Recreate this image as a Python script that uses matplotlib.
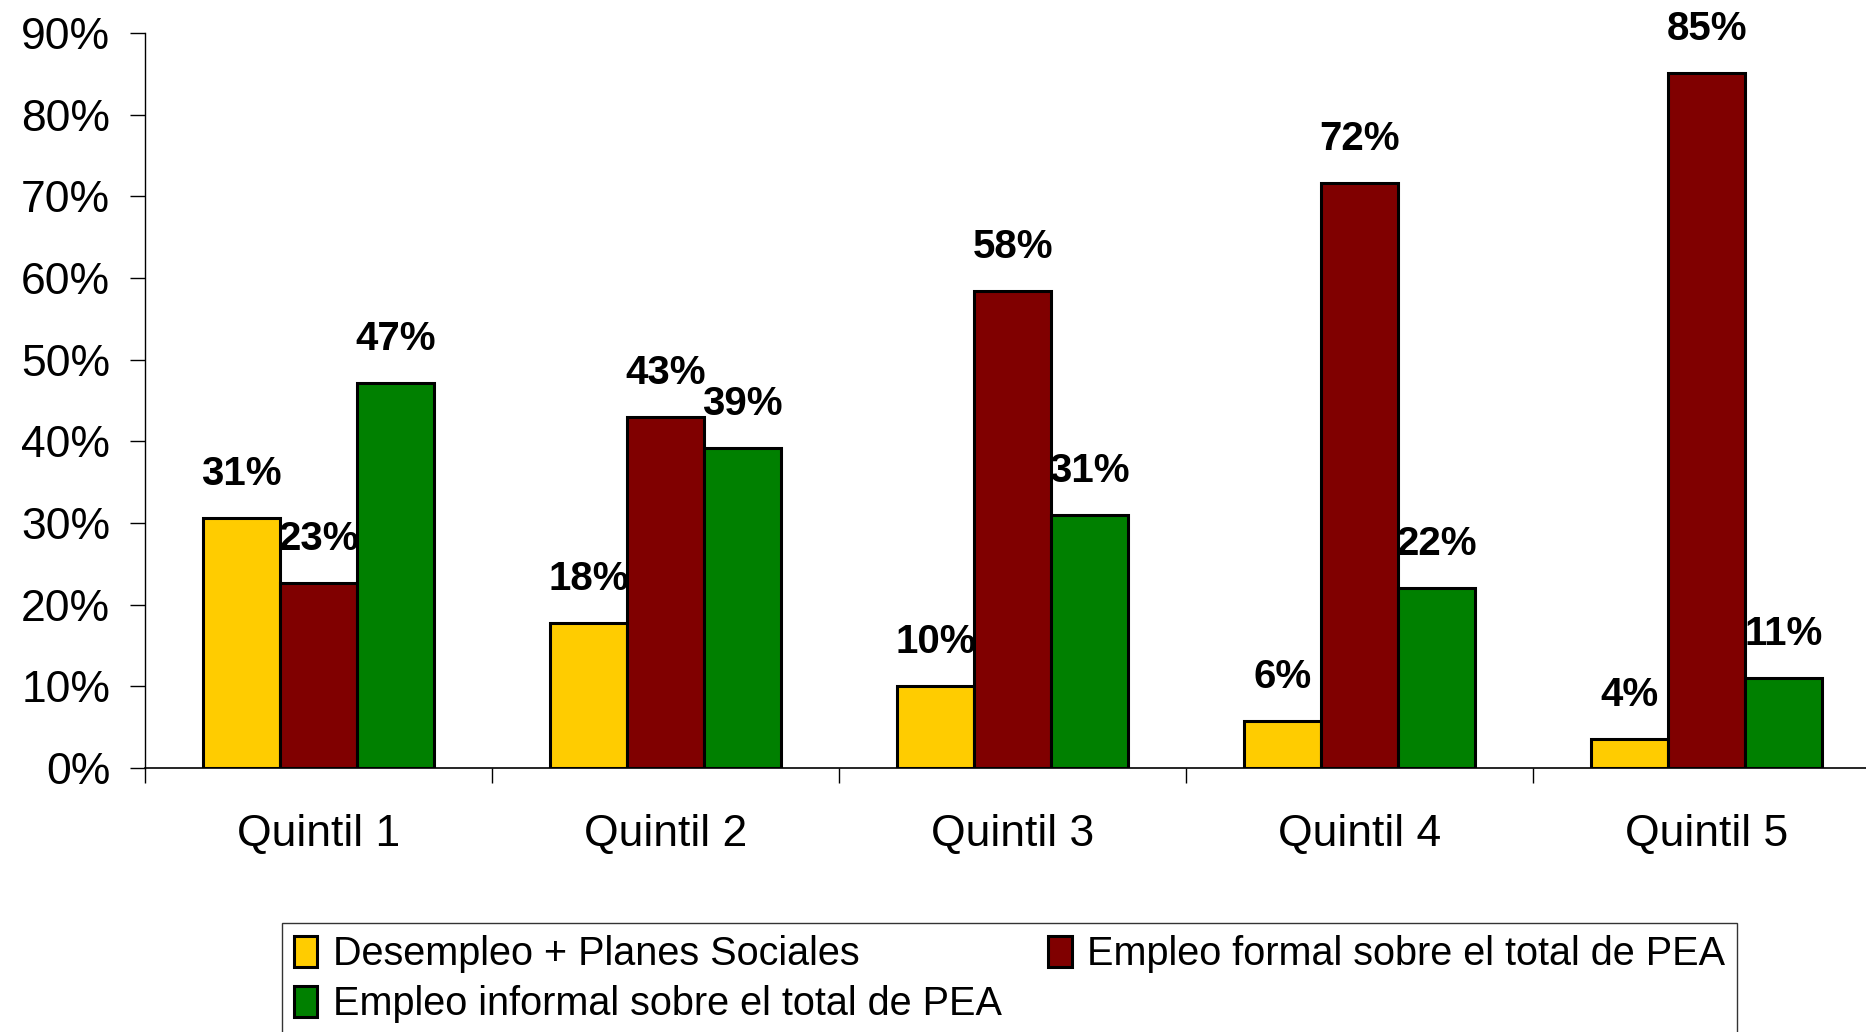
#!/usr/bin/env python3
import matplotlib.pyplot as plt
import numpy as np

# data
quintiles = ['Quintil 1', 'Quintil 2', 'Quintil 3', 'Quintil 4', 'Quintil 5']
desempleo = [0.306, 0.178, 0.101, 0.058, 0.036]
formal = [0.226, 0.43, 0.584, 0.716, 0.851]
informal = [0.472, 0.392, 0.31, 0.221, 0.11]

series = [
    ('Desempleo + Planes Sociales', desempleo, '#FFCC00'),
    ('Empleo formal sobre el total de PEA', formal, '#800000'),
    ('Empleo informal sobre el total de PEA', informal, '#008000'),
]

plt.rcParams['font.family'] = ['Liberation Sans', 'DejaVu Sans']

fig = plt.figure(figsize=(18.66, 10.32), dpi=100)
ax = fig.add_axes([0.0777, 0.2558, 0.93, 0.7122])

x = np.arange(len(quintiles))
w = 0.222
bars = []
for i, (name, vals, col) in enumerate(series):
    pos = x + (i - 1) * w
    b = ax.bar(pos, vals, width=w, color=col, edgecolor='black', linewidth=2.2, label=name)
    bars.append(b)
    for px, v in zip(pos, vals):
        ax.annotate('{:.0%}'.format(v), (px, v), xytext=(0, 25), textcoords='offset pixels',
                    ha='center', va='bottom', fontsize=29, fontweight='bold')

ax.set_xlim(-0.5, len(quintiles) - 0.5)
ax.set_ylim(0, 0.9)
ax.set_yticks(np.arange(0, 0.91, 0.1))
ax.set_yticklabels(['{:.0%}'.format(t) for t in np.arange(0, 0.91, 0.1)], fontsize=32)
ax.tick_params(axis='y', length=11, width=1, pad=14)

# category labels centred, ticks between categories
ax.set_xticks(x)
ax.set_xticklabels(quintiles, fontsize=32)
ax.tick_params(axis='x', length=0, pad=33)
ax.set_xticks(np.arange(-0.5, len(quintiles), 1.0), minor=True)
ax.tick_params(axis='x', which='minor', length=11, width=1, direction='out')

for s in ['top', 'right']:
    ax.spines[s].set_visible(False)
ax.spines['left'].set_linewidth(1)
ax.spines['bottom'].set_linewidth(1.2)

# order so that rows read: desempleo, formal / informal
order = [0, 2, 1]
leg = fig.legend([bars[k] for k in order], [series[k][0] for k in order],
                 loc='lower left', bbox_to_anchor=(0.151, -0.003, 0.78, 0.118), mode='expand',
                 ncol=2, fontsize=28.5, frameon=True, fancybox=False, edgecolor='black',
                 handlelength=0.6, handleheight=0.8, handletextpad=0.4, borderaxespad=0,
                 borderpad=0.3, columnspacing=1.0, labelspacing=0.3)
leg.get_frame().set_linewidth(1)

plt.savefig('out.png', dpi=100)
plt.close()
